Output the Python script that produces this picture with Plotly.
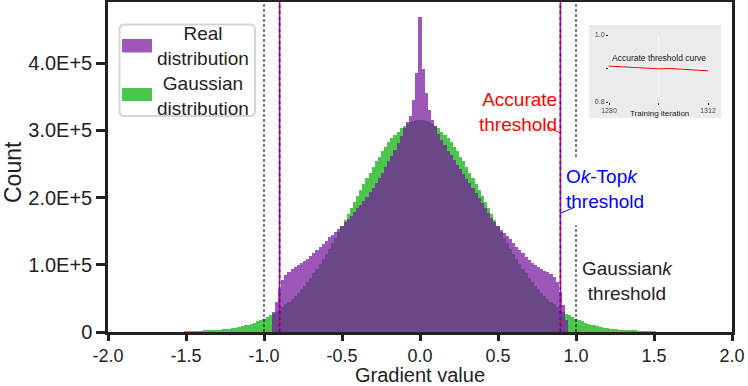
import plotly.graph_objects as go

# histogram bins: centres from -1.50 to 1.50, step 0.02 (counts in thousands)
bin_start = -1.50
bin_width = 0.02

gaussian_k = [
    0.6, 0.7, 0.9, 1.0, 1.2, 1.4, 1.6, 1.9, 2.2, 2.5, 2.9, 3.4, 3.9, 4.5, 5.1, 5.9,
    6.7, 7.6, 8.6, 9.8, 11.1, 12.5, 14, 16, 18, 20, 22, 25, 27, 30, 33, 37, 41, 45,
    49, 54, 58, 64, 69, 75, 81, 88, 94, 101, 109, 116, 124, 132, 140, 149, 158, 166,
    175, 184, 193, 202, 211, 220, 229, 237, 246, 254, 261, 269, 275, 282, 288, 293,
    298, 303, 306, 309, 312, 314, 315,
    315,
    315, 314, 312, 309, 306, 303, 298, 293, 288, 282, 275, 269, 261, 254, 246, 237,
    229, 220, 211, 202, 193, 184, 175, 166, 158, 149, 140, 132, 124, 116, 109, 101,
    94, 88, 81, 75, 69, 64, 58, 54, 49, 45, 41, 37, 33, 30, 27, 25, 22, 20, 18, 16,
    14, 12.5, 11.1, 9.8, 8.6, 7.6, 6.7, 5.9, 5.1, 4.5, 3.9, 3.4, 2.9, 2.5, 2.2, 1.9,
    1.6, 1.4, 1.2, 1.0, 0.9, 0.7, 0.6,
]

real_k = [
    0, 0, 0, 0, 0, 0, 0, 0, 0, 0, 0, 0, 0, 0, 0, 0, 0, 0, 0, 0, 0, 0, 0, 0, 0, 0, 0,
    0, 30, 45, 64, 77, 85, 90, 93, 96, 99, 102, 106, 109, 113, 118, 122, 126, 131,
    136, 141, 145, 149, 153, 158, 163, 168, 173, 179, 184, 189, 195, 201, 208, 215,
    222, 229, 237, 245, 254, 262, 271, 281, 292, 304, 313, 322, 345, 385,
    469,
    392, 355, 330, 316, 306, 295, 286, 278, 270, 263, 256, 249, 242, 235, 228, 221,
    214, 207, 200, 192, 185, 177, 170, 164, 158, 152, 147, 143, 138, 132, 127, 122,
    117, 112, 107, 103, 99, 96, 93, 91, 89, 86, 82, 75, 60, 40, 18,
    0, 0, 0, 0, 0, 0, 0, 0, 0, 0, 0, 0, 0, 0, 0, 0, 0, 0, 0, 0, 0, 0, 0, 0, 0, 0, 0, 0,
]

x_ticks = [-2.0, -1.5, -1.0, -0.5, 0.0, 0.5, 1.0, 1.5, 2.0]
x_tick_text = ["-2.0", "-1.5", "-1.0", "-0.5", "0.0", "0.5", "1.0", "1.5", "2.0"]
y_ticks = [0, 1e5, 2e5, 3e5, 4e5]
y_tick_text = ["0", "1.0E+5", "2.0E+5", "3.0E+5", "4.0E+5"]

accurate_thr = 0.9
oktopk_thr = 0.9
gaussk_thr = 1.0

# inset: accurate threshold over training iterations
iters = [1280, 1284, 1288, 1292, 1296, 1300, 1304, 1308, 1312]
acc_curve = [0.907, 0.905, 0.903, 0.901, 0.899, 0.900, 0.897, 0.895, 0.893]

FONT = "Liberation Sans, Arial, sans-serif"
PURPLE = "rgba(118,22,158,0.72)"
GREEN = "#4cc54c"
W, H = 748, 386
L, R, T, B = 108, 732, 2, 332


def px(xp):
    return (xp - L) / (R - L)


def py(yp):
    return (B - yp) / (B - T)


fig = go.Figure()
fig.add_trace(go.Bar(x0=bin_start, dx=bin_width, y=[v * 1000 for v in gaussian_k],
                     marker=dict(color=GREEN, line=dict(width=0)),
                     name="Gaussian distribution", showlegend=False))
fig.add_trace(go.Bar(x0=bin_start, dx=bin_width, y=[v * 1000 for v in real_k],
                     marker=dict(color=PURPLE, line=dict(width=0)),
                     name="Real distribution", showlegend=False))
fig.add_trace(go.Scatter(x=iters, y=acc_curve, mode="lines", xaxis="x2", yaxis="y2",
                         line=dict(color="#ff0000", width=1), showlegend=False))

dash_black = dict(color="black", width=1, dash="3px,2px")
shapes = [
    dict(type="line", xref="x", yref="paper", x0=-gaussk_thr, x1=-gaussk_thr,
         y0=0, y1=1, line=dash_black),
    dict(type="line", xref="x", yref="paper", x0=gaussk_thr, x1=gaussk_thr,
         y0=0, y1=py(225), line=dash_black),
    dict(type="line", xref="x", yref="paper", x0=gaussk_thr, x1=gaussk_thr,
         y0=py(157), y1=1, line=dash_black),
]
for xv in (-accurate_thr, accurate_thr):
    shapes.append(dict(type="line", xref="x", yref="paper", x0=xv, x1=xv, y0=0, y1=1,
                       line=dict(color="#e8003a", width=1.6)))
for xv in (-oktopk_thr, oktopk_thr):
    shapes.append(dict(type="line", xref="x", yref="paper", x0=xv, x1=xv, y0=0, y1=1,
                       line=dict(color="#1a1aff", width=1.6, dash="3px,3px")))
# leader lines from the labels to the threshold lines
shapes.append(dict(type="line", xref="paper", yref="paper", x0=px(548), y0=py(127),
                   x1=px(560), y1=py(133), line=dict(color="#ff0000", width=1)))
shapes.append(dict(type="line", xref="paper", yref="paper", x0=px(561), y0=py(213),
                   x1=px(575), y1=py(207), line=dict(color="#0000ff", width=1)))

# custom legend box
x0, x1, y0, y1 = px(119.5), px(255), py(116), py(24.5)
rx, ry = 5 / (R - L), 5 / (B - T)
box = (f"M {x0+rx},{y1} L {x1-rx},{y1} Q {x1},{y1} {x1},{y1-ry} L {x1},{y0+ry} "
       f"Q {x1},{y0} {x1-rx},{y0} L {x0+rx},{y0} Q {x0},{y0} {x0},{y0+ry} "
       f"L {x0},{y1-ry} Q {x0},{y1} {x0+rx},{y1} Z")
shapes.append(dict(type="path", xref="paper", yref="paper", path=box,
                   fillcolor="white", line=dict(color="#d4d4d4", width=2)))
shapes.append(dict(type="rect", xref="paper", yref="paper", x0=px(122), x1=px(152),
                   y0=py(52.5), y1=py(39), fillcolor=PURPLE, line=dict(width=0)))
shapes.append(dict(type="rect", xref="paper", yref="paper", x0=px(122), x1=px(152),
                   y0=py(101), y1=py(88), fillcolor=GREEN, line=dict(width=0)))
# inset background
shapes.append(dict(type="rect", xref="paper", yref="paper", x0=px(589), x1=px(721),
                   y0=py(118), y1=py(25), fillcolor="#ebebeb", line=dict(width=0),
                   layer="below"))


def label(text, xp, yp, color="#222", size=19, anchor="center", angle=0, va="middle"):
    return dict(text=text, xref="paper", yref="paper", x=px(xp), y=py(yp),
                xanchor=anchor, yanchor=va, showarrow=False, textangle=angle,
                align="center" if anchor == "center" else anchor,
                font=dict(family=FONT, size=size, color=color))


annotations = [
    label("Real<br>distribution", 203, 45.5),
    label("Gaussian<br>distribution", 203, 96),
    label("Accurate<br>threshold", 559, 112, "#ff0000", anchor="right"),
    label("O<i>k</i>-Top<i>k</i><br>threshold", 564, 189, "#0000ff", anchor="left"),
    label("Gaussian<i>k</i><br>threshold", 627, 281),
    label("Accurate threshold curve", 659, 58, "#1a1a1a", size=8.5),
    label("Training iteration", 659, 114, "#1a1a1a", size=8),
    label("Count", 13, 172, size=23, angle=-90),
]

fig.update_layout(
    width=W, height=H,
    margin=dict(l=L, r=W - R, t=T, b=H - B),
    paper_bgcolor="white", plot_bgcolor="rgba(0,0,0,0)",
    barmode="overlay", bargap=0,
    font=dict(family=FONT, size=20, color="#222"),
    shapes=shapes, annotations=annotations,
    xaxis=dict(range=[-2, 2], tickvals=x_ticks, ticktext=x_tick_text, automargin=False,
               ticks="outside", ticklen=6, tickwidth=2.5, tickcolor="#222",
               showline=True, linewidth=2.5, linecolor="#222", mirror=True,
               showgrid=False, zeroline=False,
               tickfont=dict(size=18, color="#222"),
               title=dict(text="Gradient value", standoff=0,
                          font=dict(size=20, color="#222"))),
    yaxis=dict(range=[0, 491000], tickvals=y_ticks, ticktext=y_tick_text,
               automargin=False,
               ticks="outside", ticklen=9, tickwidth=2.5, tickcolor="#222",
               showline=True, linewidth=2.5, linecolor="#222", mirror=True,
               showgrid=False, zeroline=False,
               tickfont=dict(size=20, color="#222")),
    xaxis2=dict(domain=[px(609), px(708)], range=[1280, 1312], anchor="y2",
                automargin=False,
                tickvals=[1280, 1296, 1312], ticktext=["1280", "", "1312"],
                ticks="outside", ticklen=2, tickcolor="#333", tickwidth=1,
                showgrid=True, gridcolor="white", gridwidth=1, zeroline=False,
                showline=False, tickfont=dict(size=7, color="#4d4d4d")),
    yaxis2=dict(domain=[py(102), py(35)], range=[0.8, 1.0], anchor="x2",
                automargin=False,
                tickvals=[0.8, 0.9, 1.0], ticktext=["0.8", "", "1.0"],
                ticks="outside", ticklen=2, tickcolor="#333", tickwidth=1,
                showgrid=True, gridcolor="white", gridwidth=1, zeroline=False,
                showline=False, tickfont=dict(size=7, color="#4d4d4d")),
)

# the page's default 8px body margin would shift the figure out of the window
fig.write_html("out.html", config={"displayModeBar": False},
               post_script="document.body.style.margin='0';")
